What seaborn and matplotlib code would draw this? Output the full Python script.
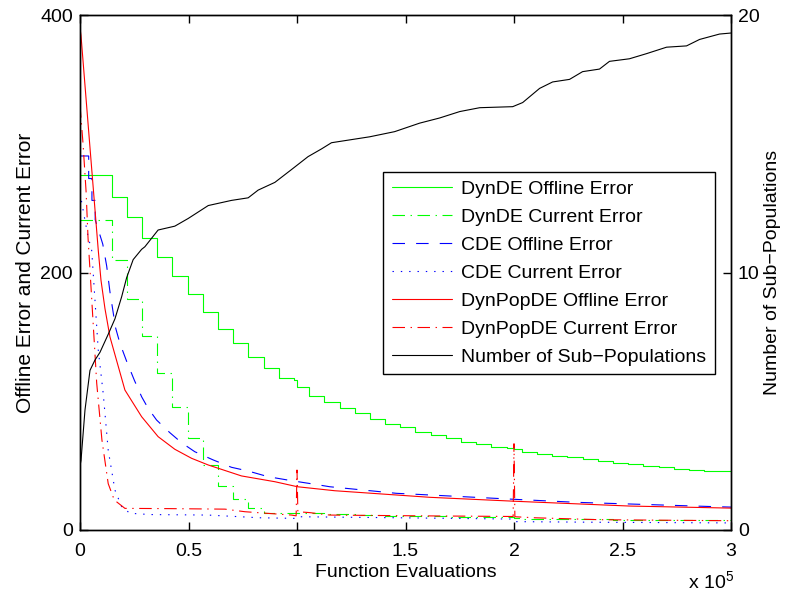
import matplotlib
matplotlib.use('Agg')
import matplotlib.pyplot as plt
import seaborn as sns
from matplotlib.ticker import FuncFormatter

# ---------------- data (function evaluations, values) ----------------
step_fe = [0, 14600, 21600, 28600, 35600, 42600, 49600, 56600, 63600, 70600,
           77600, 84600, 91600, 98600, 100000, 105600, 112600, 119600, 126600,
           133600, 140600, 147600, 154600, 161600, 168600, 175600, 182600,
           189600, 196600, 200000, 203600, 210600, 217600, 224600, 231600,
           238600, 245600, 252600, 259600, 266600, 273600, 280600, 287600, 300000]
dynde_offline = [275.7, 258.6, 242.9, 227.0, 212.3, 197.3, 183.0, 169.3, 156.5,
                 145.0, 134.4, 125.6, 117.8, 116.5, 110.8, 104.3, 99.2, 95.0,
                 90.6, 86.4, 82.3, 79.8, 76.3, 74.0, 71.2, 68.6, 66.5, 64.7,
                 64.0, 62.7, 60.8, 59.3, 57.5, 56.4, 54.9, 53.4, 52.3, 51.0,
                 49.9, 48.7, 47.6, 46.6, 45.8, 45.8]
dynde_current = [241.0, 209.7, 179.4, 150.7, 121.7, 95.8, 71.2, 50.5, 34.2, 23.8,
                 16.8, 13.5, 13.2, 13.0, 13.5, 13.0, 12.6, 12.2, 12.0, 11.6,
                 11.2, 11.0, 10.8, 10.6, 10.4, 10.3, 10.2, 10.1, 10.0, 9.0,
                 8.6, 8.4, 8.3, 8.3, 8.2, 8.2, 8.1, 8.1, 8.0, 8.0, 8.0, 7.9,
                 7.9, 7.9]

cde_off_fe = [0, 4000, 4000, 5500, 5500, 7000, 7000, 10500, 12300, 13800, 16400,
              18400, 21500, 25000, 28400, 31400, 35300, 41400, 46800, 52900,
              61400, 69800, 77500, 86700, 97500, 108200, 115100, 145800,
              161100, 200600, 228700, 268400, 293100, 300000]
cde_offline = [290.5, 290.5, 273.0, 273.0, 256.0, 256.0, 241.0, 222.0, 205.0,
               185.0, 157.0, 145.0, 131.0, 116.5, 103.5, 94.5, 85.4, 75.6,
               67.8, 60.8, 54.4, 48.7, 45.8, 41.4, 38.3, 35.5, 33.6, 28.5,
               27.2, 23.8, 21.5, 19.4, 18.1, 17.8]

cde_cur_fe = [0, 1800, 3700, 5400, 8400, 10700, 13000, 16100, 19200, 23000,
              32200, 59000, 82900, 99900, 100800, 146700, 199700, 200600,
              239400, 300000]
cde_current = [262.0, 245.0, 228.0, 217.0, 140.0, 106.0, 62.0, 31.0, 18.1, 13.0,
               12.0, 11.6, 9.5, 9.0, 10.3, 9.5, 8.5, 6.5, 6.0, 5.5]

pop_off_fe = [0, 460, 4600, 8430, 9670, 11500, 13800, 20700, 28400, 36000,
              43700, 51400, 59100, 74400, 89800, 100200, 117400, 161100,
              200700, 253300, 300000]
dynpop_offline = [390.0, 384.0, 297.0, 217.0, 194.0, 172.0, 150.0, 108.7, 88.0,
                  72.5, 62.7, 55.7, 50.5, 42.0, 37.5, 33.6, 30.5, 25.4, 22.3,
                  18.6, 17.0]

pop_cur_fe = [0, 1400, 2800, 3700, 4600, 7700, 10100, 13000, 15800, 20700,
              41400, 66800, 76000, 97500, 99600, 100000, 100400, 105900,
              115100, 156500, 199600, 200000, 200400, 209500, 239400, 300000]
dynpop_current = [330.0, 300.0, 263.0, 227.0, 202.0, 114.0, 70.0, 36.0, 23.3,
                  16.8, 16.6, 16.2, 14.2, 11.6, 11.0, 46.6, 14.2, 13.5, 11.6,
                  11.0, 10.5, 67.0, 10.3, 9.5, 8.0, 7.2]

subpop_fe = [0, 460, 2300, 4600, 6900, 9200, 13000, 16100, 19200, 21500, 24500,
             28400, 29900, 36000, 43700, 49900, 59100, 69800, 77500, 82100,
             89800, 97500, 105100, 111300, 115900, 124300, 133500, 145000,
             156500, 165700, 175000, 184200, 199400, 204000, 211800, 217800,
             225600, 231600, 239400, 244000, 253200, 261100, 270300, 279500,
             285500, 294700, 300000]
subpops = [2.5, 2.7, 4.66, 6.2, 6.6, 6.9, 7.6, 8.2, 9.06, 9.8, 10.5, 10.9, 11.0,
           11.65, 11.8, 12.1, 12.6, 12.8, 12.9, 13.2, 13.5, 14.0, 14.5, 14.8,
           15.04, 15.15, 15.27, 15.47, 15.8, 16.0, 16.25, 16.4, 16.44, 16.6,
           17.15, 17.4, 17.5, 17.8, 17.9, 18.2, 18.3, 18.5, 18.75, 18.8, 19.05,
           19.26, 19.3]

x_ticks = [0, 50000, 100000, 150000, 200000, 250000, 300000]
left_ticks = [0, 200, 400]
right_ticks = [0, 10, 20]

# ---------------- style ----------------
sns.set_style('white')
plt.rcParams['font.family'] = ['Liberation Sans', 'DejaVu Sans']
plt.rcParams['font.size'] = 14
plt.rcParams['mathtext.default'] = 'regular'
plt.rcParams['lines.scale_dashes'] = False
for k in ['text.color', 'axes.labelcolor', 'xtick.color', 'ytick.color', 'axes.edgecolor']:
    plt.rcParams[k] = 'black'

fig = plt.figure(figsize=(7.86, 5.92), dpi=100)
ax = fig.add_axes([80 / 786, 62 / 592, 651 / 786, 515 / 592])
ax2 = ax.twinx()

lw = 0.8
dashdot = (0, (9, 4, 1, 4))
dashed = (0, (9, 8))
dotted = (0, (1, 5))
green = (0.0, 1.0, 0.0)

common = dict(estimator=None, sort=False, lw=lw)
sns.lineplot(x=step_fe, y=dynde_offline, ax=ax, color=green, drawstyle='steps-post',
             label='DynDE Offline Error', **common)
sns.lineplot(x=step_fe, y=dynde_current, ax=ax, color=green, drawstyle='steps-post',
             linestyle=dashdot, label='DynDE Current Error', **common)
sns.lineplot(x=cde_off_fe, y=cde_offline, ax=ax, color='blue', linestyle=dashed,
             label='CDE Offline Error', **common)
sns.lineplot(x=cde_cur_fe, y=cde_current, ax=ax, color='blue', linestyle=dotted,
             label='CDE Current Error', **common)
sns.lineplot(x=pop_off_fe, y=dynpop_offline, ax=ax, color='red',
             label='DynPopDE Offline Error', **common)
sns.lineplot(x=pop_cur_fe, y=dynpop_current, ax=ax, color='red', linestyle=dashdot,
             label='DynPopDE Current Error', **common)
sns.lineplot(x=subpop_fe, y=subpops, ax=ax2, color='black',
             label='Number of Sub\u2212Populations', **common)

for a in (ax, ax2):
    lg = a.get_legend()
    if lg is not None:
        lg.remove()

ax.set_xlim(0, 300000)
ax.set_ylim(0, 400)
ax2.set_ylim(0, 20)
ax.set_xticks(x_ticks)
ax.xaxis.set_major_formatter(FuncFormatter(lambda v, p: f'{v / 1e5:g}'))
ax.set_yticks(left_ticks)
ax2.set_yticks(right_ticks)

ax.tick_params(axis='x', direction='in', length=6, width=1, top=True, bottom=True, pad=9)
ax.tick_params(axis='y', direction='in', length=6, width=1, left=True, right=False, pad=5)
ax2.tick_params(axis='y', direction='in', length=6, width=1, right=True, pad=5)

for a in (ax, ax2):
    for s in a.spines.values():
        s.set_color('black')
        s.set_linewidth(1.0)

ax.set_xlabel('Function Evaluations', labelpad=3)
ax.set_ylabel('Offline Error and Current Error', labelpad=4, fontsize=15)
ax2.set_ylabel('Number of Sub\u2212Populations', labelpad=3)

fig.text(688 / 786, 1 - 588 / 592, 'x 10$^{5}$', ha='left', va='baseline', fontsize=14)

h1, l1 = ax.get_legend_handles_labels()
h2, l2 = ax2.get_legend_handles_labels()
leg = ax2.legend(h1 + h2, l1 + l2, loc='upper right',
                 bbox_to_anchor=((715 - 80) / 651, (530 - 171.7) / 515),
                 borderaxespad=0, fancybox=False, framealpha=1, edgecolor='black',
                 handlelength=3.1, handletextpad=0.45, labelspacing=0.53,
                 borderpad=0.45, fontsize=14)
leg.get_frame().set_linewidth(1.0)

fig.savefig('out.png', dpi=100)
